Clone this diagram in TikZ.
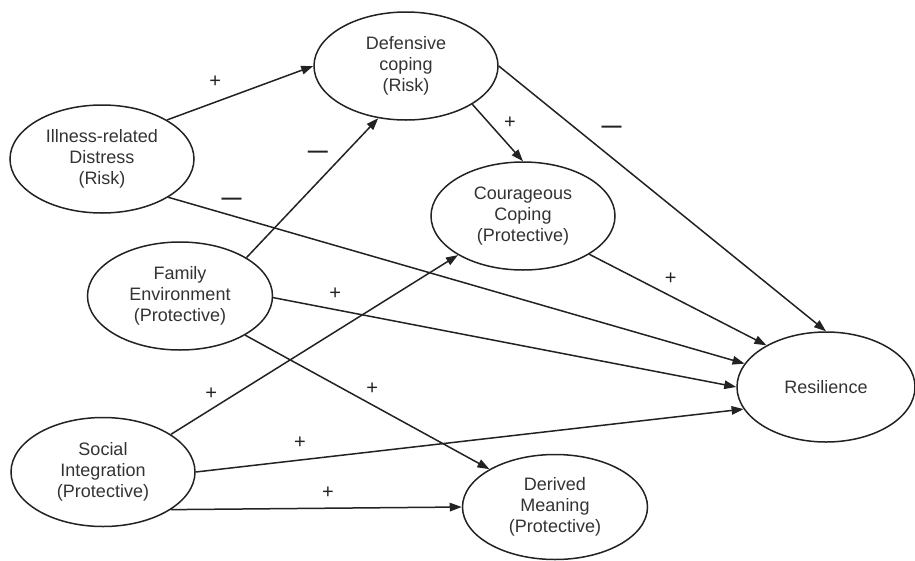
\documentclass[tikz,border=0pt]{standalone}
\usepackage{fontspec}
\setmainfont{Liberation Sans}
\usepackage{tikz}
\usepackage{xcolor}
\usetikzlibrary{shapes.geometric, arrows.meta}
\definecolor{Path_Gray90}{HTML}{222222}
\definecolor{Text_Gray80}{HTML}{333333}

\begin{document}
\begin{tikzpicture}[
    x=1pt, y=-1pt,
    factor/.style={ellipse, draw=Path_Gray90, line width=1.5pt, inner sep=0pt, minimum width=184pt, minimum height=108pt, align=center, text=Text_Gray80, font=\fontsize{18}{21}\selectfont},
    path/.style={draw=Path_Gray90, line width=1.5pt, -{Triangle[length=12pt, width=8.5pt]}},
    sign/.style={text=Path_Gray90, inner sep=0pt, font=\fontsize{20}{20}\selectfont}
]
\useasboundingbox (0,0) rectangle (915,560);
\node[factor] (distress) at (102, 159) {Illness-related\\Distress\\(Risk)};
\node[factor] (defensive) at (406, 66) {Defensive\\coping\\(Risk)};
\node[factor] (courageous) at (523, 216) {Courageous\\Coping\\(Protective)};
\node[factor, minimum width=185pt] (family) at (180, 296) {Family\\Environment\\(Protective)};
\node[factor, minimum height=109pt] (social) at (103, 472) {Social\\Integration\\(Protective)};
\node[factor, minimum width=178pt, minimum height=110pt] (resilience) at (826, 387) {Resilience};
\node[factor, minimum width=185pt, minimum height=105pt] (meaning) at (555, 507) {Derived\\Meaning\\(Protective)};

\draw[path] (distress.31) -- node[sign, pos=0.33, yshift=20pt] (s1) {+} (defensive.180);
\draw[path] (family.30) -- node[sign, pos=0.74, xshift=-26pt] (s2) {\textbf{—}} (defensive.242);
\draw[path] (distress.-30) -- node[sign, pos=0.11, yshift=14pt] (s3) {\textbf{—}} (resilience.164);
\draw[path] (family.-1) -- node[sign, pos=0.134, yshift=16pt] (s4) {+} (resilience.180);
\draw[path] (social.0) -- node[sign, pos=0.19, yshift=17pt] (s5) {+} (resilience.195);
\draw[path] (social.29) -- node[sign, pos=0.14, yshift=16pt] (s6) {+} (courageous.211);
\draw[path] (family.-31) -- node[sign, pos=0.52, yshift=16pt] (s7) {+} (meaning.150);
\draw[path] (social.-29.5) -- node[sign, pos=0.54, yshift=15pt] (s8) {+} (meaning.180);
\draw[path] (defensive.-30) -- node[sign, pos=0.33, xshift=21pt] (s9) {+} (courageous.90);
\draw[path] (defensive.0) -- node[sign, pos=0.345, yshift=28pt] (s10) {\textbf{—}} (resilience.90);
\draw[path] (courageous.-30) -- node[sign, pos=0.46, yshift=17pt] (s11) {+} (resilience.145);
\end{tikzpicture}
\end{document}
